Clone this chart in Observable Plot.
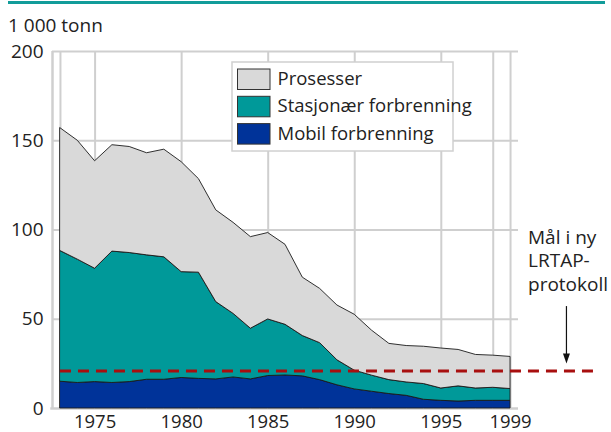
<!DOCTYPE html>
<html>
<head>
<meta charset="utf-8">
<script src="https://cdn.jsdelivr.net/npm/d3@7"></script>
<script src="https://cdn.jsdelivr.net/npm/@observablehq/plot@0.6"></script>
<style>
  html, body { margin: 0; padding: 0; background: #fff; }
  #chart svg { display: block; }
</style>
</head>
<body>
<div id="chart"></div>
<script>
const years = [1973,1974,1975,1976,1977,1978,1979,1980,1981,1982,1983,1984,1985,1986,1987,1988,1989,1990,1991,1992,1993,1994,1995,1996,1997,1998,1999];
const mobil      = [15.0,14.3,14.8,14.3,14.8,16.1,16.1,17.1,16.6,16.3,17.4,16.3,18.2,18.5,18.0,15.9,13.0,10.7,9.4,8.1,7.1,4.9,4.3,3.9,4.3,4.3,4.3];
const stasjonaer = [73.2,69.1,63.5,73.6,72.3,69.7,68.6,59.3,59.5,43.3,35.6,28.4,31.7,28.4,22.6,20.7,14.0,10.5,9.0,7.8,7.5,8.8,6.9,8.5,6.9,7.3,6.6];
const prosesser  = [68.8,66.6,60.2,59.6,59.4,57.2,60.3,61.6,52.4,51.4,51.0,51.3,48.4,44.8,32.7,30.4,30.7,31.3,25.2,20.3,20.4,20.9,22.4,20.4,18.8,18.0,18.0];

const seriesNames = ["Mobil forbrenning", "Stasjonær forbrenning", "Prosesser"];
const seriesColors = ["#003399", "#009999", "#d9d9d9"];
const legendOrder = ["Prosesser", "Stasjonær forbrenning", "Mobil forbrenning"];

const xTicks = [1975, 1980, 1985, 1990, 1995, 1999];
const xGrid = [1973, 1975, 1980, 1985, 1990, 1995, 1998, 1999];
const yTicks = [0, 50, 100, 150, 200];
const target = 21;
const unitLabel = "1 000 tonn";
const noteLines = ["Mål i ny", "LRTAP-", "protokoll"];

const valuesBySeries = [mobil, stasjonaer, prosesser];
const data = [];
seriesNames.forEach((s, i) => years.forEach((yr, j) => data.push({year: yr, value: valuesBySeries[i][j], series: s})));

const X0 = 1972.54, X1 = 1999.46;
const FONT = "'Open Sans', sans-serif";
const GRID = "#cfcfcf";

const triangleDown = { draw(ctx) { ctx.moveTo(0, 5); ctx.lineTo(-3.5, -5); ctx.lineTo(3.5, -5); ctx.closePath(); } };

const chart = Plot.plot({
  width: 611,
  height: 432,
  marginLeft: 52,
  marginRight: 93,
  marginTop: 51,
  marginBottom: 24,
  style: { fontFamily: FONT, fontSize: "19px", color: "#222", background: "#fff", overflow: "visible" },
  x: { domain: [X0, X1] },
  y: { domain: [0, 200] },
  color: { domain: seriesNames, range: seriesColors },
  marks: [
    Plot.ruleY(yTicks.filter(d => d > 0), { x1: X0, x2: X1, stroke: GRID, strokeWidth: 2 }),
    Plot.ruleX(xGrid, { y1: 0, y2: 200, stroke: GRID, strokeWidth: 2 }),
    Plot.ruleX([X0], { y1: 0, y2: 200, stroke: GRID, strokeWidth: 2.5 }),
    Plot.ruleY([0], { x1: X0 - 0.1, x2: X1, stroke: GRID, strokeWidth: 2.5 }),
    Plot.areaY(data, Plot.stackY({
      x: "year", y: "value", z: "series", fill: "series",
      order: seriesNames,
      stroke: "#1a1a1a", strokeWidth: 0.9, strokeLinejoin: "round"
    })),
    Plot.ruleY([target], { x1: 1973, x2: 2003.9, stroke: "#a80f0f", strokeWidth: 3, strokeDasharray: "11,7" }),
    Plot.ruleX([2002.23], { y1: 57.1, y2: 29, stroke: "#111", strokeWidth: 1.2 }),
    Plot.dot([0], { x: () => 2002.23, y: () => 28, symbol: triangleDown, fill: "#111", stroke: "none" }),
    Plot.axisX(xTicks, { tickSize: 0, tickPadding: 6, tickFormat: d => String(d), label: null, fontSize: 18.5 }),
    Plot.axisY(yTicks, { tickSize: 0, tickPadding: 9, tickFormat: d => String(d), label: null, fontSize: 19 })
  ]
});

document.getElementById("chart").appendChild(chart);

const svg = d3.select(chart);
const xs = chart.scale("x");

// top teal rule
svg.append("rect").attr("x", 8).attr("y", 1).attr("width", 597).attr("height", 3).attr("fill", "#129c9a");

function addText(sel, x, y, t, size) {
  return sel.append("text").attr("x", x).attr("y", y)
    .attr("text-anchor", "start")
    .attr("font-family", FONT).attr("font-size", size).attr("fill", "#222").text(t);
}

// unit label
addText(svg, 8, 32, unitLabel, 19);

// annotation
const noteX = xs.apply(2000.04);
noteLines.forEach((t, i) => addText(svg, noteX, 244 + i * 23.3, t, 19));

// legend
const lg = svg.append("g");
lg.append("rect").attr("x", 232).attr("y", 62).attr("width", 221).attr("height", 89)
  .attr("fill", "#fff").attr("stroke", "#d0d0d0").attr("stroke-width", 1.5);
legendOrder.forEach((name, i) => {
  const color = seriesColors[seriesNames.indexOf(name)];
  const y0 = 69 + i * 27.3;
  lg.append("rect").attr("x", 237.5).attr("y", y0).attr("width", 32.5).attr("height", 20.5)
    .attr("fill", color).attr("stroke", "#333").attr("stroke-width", 1);
  addText(lg, 277.5, y0 + 16, name, 18.5);
});
</script>
</body>
</html>
